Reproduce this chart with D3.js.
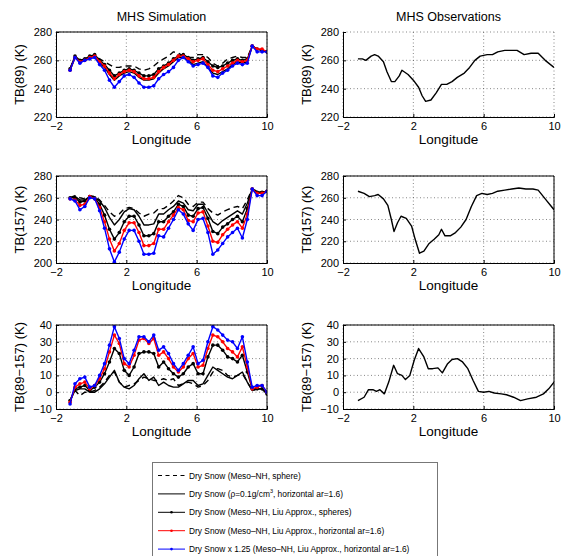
<!DOCTYPE html>
<html>
<head>
<meta charset="utf-8">
<script src="https://cdn.jsdelivr.net/npm/d3@7"></script>
<style>
  body { margin: 0; background: #fff; }
  svg { font-family: "Liberation Sans", Arial, Helvetica, sans-serif; }
</style>
</head>
<body>
<div id="chart"></div>
<script>
// longitude of the simulated points
var lon = [-1.2,-0.92,-0.64,-0.36,-0.08,0.2,0.48,0.76,1.04,1.32,1.6,1.88,2.16,2.44,2.72,3.0,3.28,3.56,3.84,4.12,4.4,
  4.68,4.96,5.24,5.52,5.8,6.08,6.36,6.64,6.92,7.2,7.48,7.76,8.04,8.32,8.6,8.88,9.16,9.44,9.72,10.0];

// TB(89) simulated
var tb89Sphere = [254,263,260,261,263,263,261,259,257,255,255,256,256,256,254,253,254,256,259,261,263,
  266,265,263,262,262,264,264,262,258,256,258,261,262,263,262,262,270,268,267,266];
var tb89Rho    = [253,262,259,260,262,263,258,255,250,246,249,251,252,251,248,246,246,247,251,254,256,
  259,262,262,260,257,258,259,255,251,250,252,254,257,259,258,259,270,268,267,266];
var tb89Liu    = [254,263,260,261,263,264,260,257,253,249,251,253,254,253,251,249,249,250,254,256,258,
  261,263,264,262,260,261,262,259,256,255,256,258,260,261,260,261,270,268,267,266];
var tb89LiuAr  = [253,262,259,260,262,263,259,256,251,247,250,252,253,252,249,247,247,248,252,255,257,
  260,263,263,261,259,260,261,257,253,252,254,256,258,260,259,260,270,268,268,266];
var tb89Scaled = [253,262,258,260,261,262,257,253,246,241,245,249,250,248,244,241,241,242,247,250,252,
  255,260,262,259,256,257,258,255,249,248,251,253,256,258,257,258,270,266,266,266];

// TB(157) simulated
var tb157Sphere = [260,262,260,259,262,261,258,253,247,243,245,250,251,250,246,243,245,246,250,250,253,
  257,262,260,254,252,256,256,250,246,244,247,249,251,252,250,258,268,266,265,266];
var tb157Rho    = [260,261,258,258,261,260,257,251,242,235,240,247,250,249,243,235,235,236,245,245,249,
  252,257,255,249,248,254,254,246,238,235,239,242,245,248,245,255,268,265,265,266];
var tb157Liu    = [260,260,256,257,261,260,254,244,231,222,228,238,243,243,235,225,225,227,238,238,243,
  247,254,252,244,243,250,251,241,229,227,233,236,240,243,238,250,268,265,265,266];
var tb157LiuAr  = [259,258,253,254,261,259,251,238,222,211,218,230,237,237,228,216,216,218,231,231,238,
  244,251,249,239,238,246,247,234,220,219,226,231,235,238,232,245,268,264,264,266];
var tb157Scaled = [259,257,249,252,260,259,248,232,213,201,210,222,230,230,220,208,208,209,225,224,232,
  240,249,245,236,230,240,241,228,208,212,218,224,228,232,223,240,268,262,262,266];

// TB(89-157) simulated
var diffSphere = [-5,1,-2,0,0,1,3,6,10,12,6,3,4,5,7,9,8,7,7,8,7,
  8,4,5,6,5,3,4,7,12,14,13,10,9,10,11,6,1,2,2,-1];
var diffRho    = [-5,1,2,2,0,0,2,5,9,13,6,3,2,4,8,11,7,9,4,6,4,
  3,3,5,7,7,4,5,10,15,13,11,9,8,10,12,6,1,2,2,-1];
var diffLiu    = [-5,2,3,4,1,3,6,11,18,26,23,13,10,15,23,24,24,23,15,18,14,
  11,9,11,15,17,11,11,21,28,28,25,21,20,18,22,12,2,2,2,-1];
var diffLiuAr  = [-6,3,5,6,2,4,8,14,24,34,29,17,15,22,31,32,29,32,22,24,20,
  15,12,15,20,23,15,16,26,34,33,30,26,24,21,27,15,2,3,4,0];
var diffScaled = [-7,5,8,9,3,4,10,17,28,39,32,20,17,25,33,33,30,34,25,27,23,
  17,13,17,22,27,17,19,30,39,37,34,31,30,26,33,18,3,4,4,0];

// observations
var obsLon89 = [-1.15,-0.9,-0.7,-0.4,-0.2,0.0,0.3,0.5,0.75,0.95,1.2,1.35,1.7,2.0,2.3,2.5,2.7,3.0,3.3,3.6,3.9,
  4.2,4.5,4.9,5.2,5.5,5.8,6.2,6.5,6.8,7.2,7.6,7.9,8.3,8.7,9.1,9.5,10.0];
var obs89 = [261,261,260,263,264,263,259,252,245,245,249,253,250,246,241,235,231,232,237,243,243,
  245,248,251,255,260,263,264,264,266,267,267,267,264,265,265,260,255];

var obsLon157 = [-1.15,-0.8,-0.5,-0.2,0.0,0.3,0.55,0.75,0.9,1.1,1.3,1.6,1.9,2.1,2.35,2.6,2.9,3.2,3.45,3.6,3.8,
  4.1,4.4,4.7,5.0,5.3,5.6,5.9,6.2,6.5,6.8,7.2,7.6,8.0,8.4,8.8,9.1,9.5,10.0];
var obs157 = [266,264,261,262,263,259,253,240,229,237,243,241,234,222,209,211,218,222,226,231,225,
  225,228,233,240,252,262,264,263,264,266,267,268,269,268,268,267,259,249];

var obsLonDiff = [-1.15,-0.8,-0.55,-0.3,-0.1,0.1,0.35,0.6,0.88,1.1,1.35,1.55,1.8,2.05,2.3,2.6,2.85,3.1,3.4,3.65,3.95,
  4.2,4.5,4.8,5.1,5.4,5.7,6.0,6.3,6.6,7.0,7.3,7.7,8.1,8.5,9.0,9.4,9.7,10.0];
var obsDiff = [-5,-3,1.5,1.5,0.5,1.5,-1,6,16,11,10,7.5,10,19,26,21,14,14,14.5,11.5,17,
  19.5,20,18,14,7,0.5,0,0.5,-0.5,-1,-1.5,-3,-5,-4,-3,-1,2,6];

var xTicks = [-2, 2, 6, 10];
var yTicks89 = [220, 240, 260, 280];
var yTicks157 = [200, 220, 240, 260, 280];
var yTicksDiff = [-10, 0, 10, 20, 30, 40];

var legendLabels = [
  "Dry Snow (Meso\u2013NH, sphere)",
  "Dry Snow (\u03c1=0.1g/cm|3|, horizontal ar=1.6)",
  "Dry Snow (Meso\u2013NH, Liu Approx., spheres)",
  "Dry Snow (Meso\u2013NH, Liu Approx., horizontal ar=1.6)",
  "Dry Snow x 1.25 (Meso\u2013NH, Liu Approx., horizontal ar=1.6)"
];

var styles = [
  {color: "#000", dash: "6,4", marker: false},
  {color: "#000", dash: null, marker: false},
  {color: "#000", dash: null, marker: true},
  {color: "#ff0000", dash: null, marker: true},
  {color: "#0000ff", dash: null, marker: true}
];

var width = 564, height = 556;
var svg = d3.select("#chart").append("svg").attr("width", width).attr("height", height);

function drawPanel(left, top, w, h, yDomain, yTicks, yLabel, seriesList, box) {
  var x = d3.scaleLinear().domain([-2, 10]).range([left, left + w]);
  var y = d3.scaleLinear().domain(yDomain).range([top + h, top]);
  var g = svg.append("g");

  // dotted grid
  g.selectAll(".gx").data(xTicks).enter().append("line")
    .attr("x1", function (d) { return x(d); }).attr("x2", function (d) { return x(d); })
    .attr("y1", top).attr("y2", top + h)
    .attr("stroke", "#555").attr("stroke-width", 0.7).attr("stroke-dasharray", "1,2.5");
  g.selectAll(".gy").data(yTicks).enter().append("line")
    .attr("y1", function (d) { return y(d); }).attr("y2", function (d) { return y(d); })
    .attr("x1", left).attr("x2", left + w)
    .attr("stroke", "#555").attr("stroke-width", 0.7).attr("stroke-dasharray", "1,2.5");

  var clipId = "clip" + Math.round(left) + "_" + Math.round(top);
  g.append("clipPath").attr("id", clipId).append("rect")
    .attr("x", left).attr("y", top).attr("width", w).attr("height", h);

  var line = d3.line().x(function (d) { return x(d[0]); }).y(function (d) { return y(d[1]); });
  var plot = g.append("g").attr("clip-path", "url(#" + clipId + ")");
  seriesList.forEach(function (s) {
    var pts = s.xs.map(function (v, i) { return [v, s.ys[i]]; });
    plot.append("path").datum(pts)
      .attr("d", line).attr("fill", "none")
      .attr("stroke", s.style.color).attr("stroke-width", 1.4)
      .attr("stroke-dasharray", s.style.dash)
      .attr("stroke-linejoin", "round");
    if (s.style.marker) {
      plot.selectAll(null).data(pts).enter().append("circle")
        .attr("cx", function (d) { return x(d[0]); })
        .attr("cy", function (d) { return y(d[1]); })
        .attr("r", 1.8).attr("fill", s.style.color);
    }
  });

  // axes
  var ax = d3.axisBottom(x).tickValues(xTicks).tickSize(-3).tickPadding(5).tickFormat(d3.format("d"));
  var ay = d3.axisLeft(y).tickValues(yTicks).tickSize(-3).tickPadding(4).tickFormat(d3.format("d"));
  var gx = g.append("g").attr("transform", "translate(0," + (top + h) + ")").call(ax);
  var gy = g.append("g").attr("transform", "translate(" + left + ",0)").call(ay);
  [gx, gy].forEach(function (a) {
    a.select(".domain").attr("stroke", "#000");
    a.selectAll(".tick line").attr("stroke", "#000");
    a.selectAll("text").attr("font-size", 11).attr("fill", "#000")
      .attr("font-family", "Liberation Sans, Arial, sans-serif");
  });
  gx.selectAll("text").text(function (d) { return d < 0 ? "\u2212" + Math.abs(d) : d; });
  gy.selectAll("text").text(function (d) { return d < 0 ? "\u2212" + Math.abs(d) : d; });

  if (box) {
    g.append("line").attr("x1", left).attr("x2", left + w).attr("y1", top).attr("y2", top)
      .attr("stroke", "#000");
    g.append("line").attr("x1", left + w).attr("x2", left + w).attr("y1", top).attr("y2", top + h)
      .attr("stroke", "#000");
  }

  g.append("text").attr("x", left + w / 2).attr("y", top + h + 27)
    .attr("text-anchor", "middle").attr("font-size", 13.5).text("Longitude");
  g.append("text")
    .attr("transform", "translate(" + (left - 32) + "," + (top + h / 2) + ") rotate(-90)")
    .attr("text-anchor", "middle").attr("font-size", 13).text(yLabel);
}

function simSeries(arrs) {
  return arrs.map(function (a, i) { return {xs: lon, ys: a, style: styles[i]}; });
}
var obsStyle = {color: "#000", dash: null, marker: false};

var lx = 56, rx = 343, pw = 211;
drawPanel(lx, 32, pw, 85, [220, 280], yTicks89, "TB(89) (K)",
  simSeries([tb89Sphere, tb89Rho, tb89Liu, tb89LiuAr, tb89Scaled]), true);
drawPanel(lx, 176, pw, 87, [200, 280], yTicks157, "TB(157) (K)",
  simSeries([tb157Sphere, tb157Rho, tb157Liu, tb157LiuAr, tb157Scaled]), true);
drawPanel(lx, 325, pw, 84, [-10, 40], yTicksDiff, "TB(89\u2212157) (K)",
  simSeries([diffSphere, diffRho, diffLiu, diffLiuAr, diffScaled]), true);

drawPanel(rx, 32, pw, 85, [220, 280], yTicks89, "TB(89) (K)",
  [{xs: obsLon89, ys: obs89, style: obsStyle}], false);
drawPanel(rx, 176, pw, 87, [200, 280], yTicks157, "TB(157) (K)",
  [{xs: obsLon157, ys: obs157, style: obsStyle}], true);
drawPanel(rx, 325, pw, 84, [-10, 40], yTicksDiff, "TB(89\u2212157) (K)",
  [{xs: obsLonDiff, ys: obsDiff, style: obsStyle}], true);

svg.append("text").attr("x", lx + pw / 2).attr("y", 21).attr("text-anchor", "middle")
  .attr("font-size", 12.5).text("MHS Simulation");
svg.append("text").attr("x", rx + pw / 2).attr("y", 21).attr("text-anchor", "middle")
  .attr("font-size", 12.5).text("MHS Observations");

// legend
var leg = svg.append("g");
leg.append("rect").attr("x", 152.5).attr("y", 462.5).attr("width", 285).attr("height", 100)
  .attr("fill", "#fff").attr("stroke", "#777").attr("stroke-width", 1);
legendLabels.forEach(function (lab, i) {
  var yy = 475.5 + i * 18.4;
  var st = styles[i];
  leg.append("line").attr("x1", 158).attr("x2", 185).attr("y1", yy).attr("y2", yy)
    .attr("stroke", st.color).attr("stroke-width", 1)
    .attr("stroke-dasharray", st.dash ? "4,3.5" : null);
  if (st.marker) {
    leg.append("circle").attr("cx", 171.5).attr("cy", yy).attr("r", 1.3).attr("fill", st.color);
  }
  var t = leg.append("text").attr("x", 189).attr("y", yy + 3).attr("font-size", 8.4);
  var parts = lab.split("|");
  t.append("tspan").text(parts[0]);
  if (parts.length > 1) {
    t.append("tspan").attr("dy", -3.5).attr("font-size", 5.5).text(parts[1]);
    t.append("tspan").attr("dy", 3.5).text(parts[2]);
  }
});
</script>
</body>
</html>
